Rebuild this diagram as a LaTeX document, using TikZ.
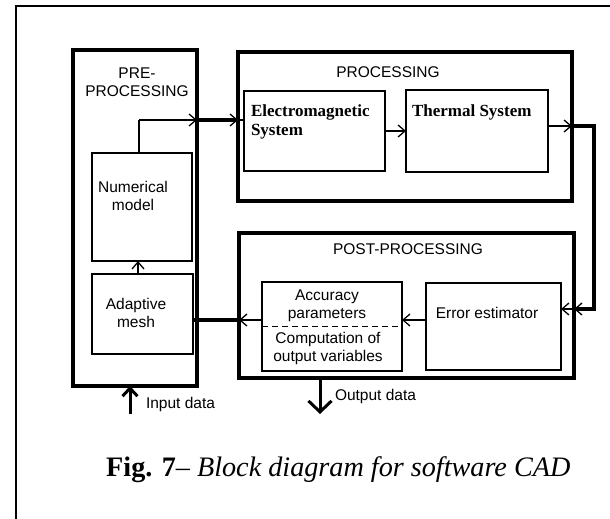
\documentclass[tikz,border=0pt]{standalone}
\usepackage{fontspec}
\setmainfont{Liberation Sans}
\newfontfamily\serifrm{Liberation Serif}
\usetikzlibrary{arrows.meta}

\begin{document}
\begin{tikzpicture}[x=1pt,y=-1pt,
  txt/.style={font=\fontsize{15.5}{18.5}\selectfont, inner sep=0pt, outer sep=0pt, align=center},
  boldtxt/.style={font=\serifrm\bfseries\fontsize{17}{19}\selectfont, inner sep=0pt, outer sep=0pt, align=left},
  heavybox/.style={draw, line width=3.2pt, inner sep=0pt, outer sep=0pt},
  lightbox/.style={draw, line width=1.3pt, inner sep=0pt, outer sep=0pt},
  plainlink/.style={line width=1.3pt},
  thinlink/.style={line width=1.3pt, -{Straight Barb[length=7pt,width=12pt]}},
  thicklink/.style={line width=3.2pt},
  inarrow/.style={line width=3pt, -{Straight Barb[length=8pt,width=15pt]}},
  outarrow/.style={line width=3pt, -{Straight Barb[length=11pt,width=23pt]}},
  splitline/.style={line width=1.4pt, dash pattern=on 6pt off 4pt}]

\useasboundingbox (0,0) rectangle (610,519);
\clip (0,0) rectangle (610,519);
\fill[white] (0,0) rectangle (610,519);

% page frame
\draw[line width=1.6pt] (16,530) -- (16,6) -- (620,6);

% main blocks
\node[heavybox, minimum width=124pt, minimum height=336pt] (pre)  at (135,218) {};
\node[heavybox, minimum width=334pt, minimum height=149pt] (proc) at (405,126.5) {};
\node[heavybox, minimum width=335pt, minimum height=145pt] (post) at (406.5,305.5) {};

% inner blocks
\node[lightbox, minimum width=100pt, minimum height=108pt] (numer) at (142,207) {};
\node[lightbox, minimum width=101pt, minimum height=80pt]  (adapt) at (142.5,314) {};
\node[lightbox, minimum width=141pt, minimum height=80pt]  (em)    at (314.5,131) {};
\node[lightbox, minimum width=142pt, minimum height=82pt]  (therm) at (477,131) {};
\node[lightbox, minimum width=140pt, minimum height=89pt]  (acc)   at (332,326.5) {};
\node[lightbox, minimum width=135pt, minimum height=87pt]  (err)   at (493.5,326.5) {};

% titles and labels
\node[txt] (pretitle)  at (137,82) {PRE-\\PROCESSING};
\node[txt] (proctitle) at (388,72) {PROCESSING};
\node[txt] (posttitle) at (408,249.5) {POST-PROCESSING};
\node[txt] (numertxt)  at (133,196) {Numerical\\model};
\node[txt] (adapttxt)  at (136,313) {Adaptive\\mesh};
\node[txt] (acctxt)    at (327,305.8) {Accuracy\\parameters};
\node[txt] (comptxt)   at (328,348.5) {Computation of\\output variables};
\node[txt] (errtxt)    at (487,312.5) {Error estimator};
\node[boldtxt, anchor=west] (emtxt) at (251,121.5) {Electromagnetic\\System};
\node[boldtxt, anchor=base west] (thermtxt) at (412,116) {Thermal System};
\node[txt, anchor=base west] (intxt)  at (146,408) {Input data};
\node[txt, anchor=base west] (outtxt) at (335,400.5) {Output data};
\node[font=\serifrm\fontsize{28.2}{30}\selectfont, inner sep=0pt, anchor=base west] (caption)
  at (106,476) {\textbf{Fig. 7}\textit{– Block diagram for software CAD}};

% bend points of the connectors
\coordinate (jA) at (139,120);
\coordinate (jB) at (594,126);
\coordinate (jC) at (594,309);
\coordinate (jD) at (0,320);
\coordinate (jE) at (138,0);
\coordinate (inS) at (130,414);
\coordinate (outE) at (320,414);

% numerical model -> electromagnetic system
\draw[plainlink] (numer.north -| jA) -- (jA);
\draw[thinlink] (jA) -- (pre.east |- jA);
\draw[thicklink] (pre.east |- jA) -- (proc.west |- jA);
\draw[thinlink] (pre.east |- jA) -- (proc.west |- jA);
\draw[plainlink] (proc.west |- jA) -- (em.west |- jA);

% electromagnetic -> thermal
\draw[thinlink] (em.east) -- (therm.west);

% thermal -> error estimator
\draw[thinlink] (therm.east |- jB) -- (proc.east |- jB);
\draw[thicklink] (proc.east |- jB) -- (jB) -- (jC) -- (post.east |- jC);
\draw[thinlink] (jC) -- (post.east |- jC);
\draw[thinlink] (post.east |- jC) -- (err.east |- jC);

% error estimator -> accuracy -> adaptive mesh
\draw[thinlink] (err.west |- jD) -- (acc.east |- jD);
\draw[thinlink] (acc.west |- jD) -- (post.west |- jD);
\draw[thicklink] (post.west |- jD) -- (adapt.east |- jD);

% adaptive mesh -> numerical model
\draw[thinlink] (adapt.north -| jE) -- (numer.south -| jE);

% split of the accuracy block
\draw[splitline] (acc.west) -- (acc.east);

% input and output
\draw[inarrow] (inS) -- (pre.south -| inS);
\draw[outarrow] (post.south -| outE) -- (outE);
\end{tikzpicture}
\end{document}
